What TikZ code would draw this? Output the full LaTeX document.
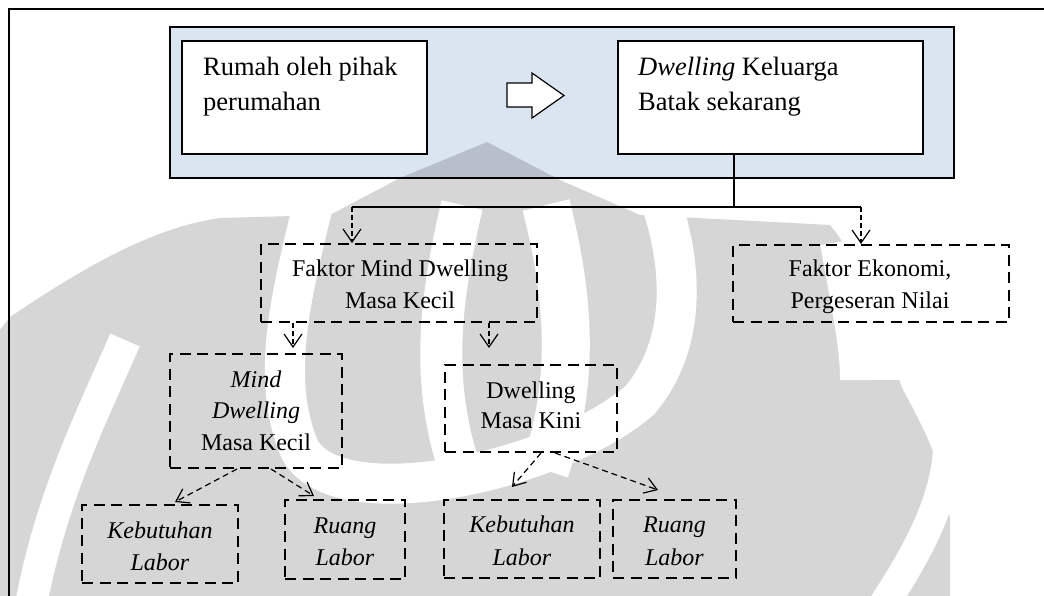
\documentclass[tikz,border=0pt]{standalone}
\usepackage{fontspec}
\setmainfont{Liberation Serif}
\usetikzlibrary{arrows.meta,calc}
\definecolor{panelblue}{RGB}{219,229,241}
\definecolor{markgray}{RGB}{214,214,214}
\begin{document}
\begin{tikzpicture}[x=1pt,y=-1pt,
  solidbox/.style={draw=black,line width=1.5pt,fill=white,inner sep=0pt},
  dashbox/.style={draw=black,line width=2pt,dash pattern=on 11pt off 6.5pt,inner sep=0pt},
  toptext/.style={font=\fontsize{26.5}{35}\selectfont,align=left,inner sep=0pt,anchor=base west},
  boxtext/.style={font=\fontsize{24}{31.5}\selectfont,align=center,inner sep=0pt,anchor=base},
  trunk/.style={line width=1.5pt},
  droparrow/.style={line width=1.2pt,dash pattern=on 5pt off 3pt,-{Straight Barb[length=13pt,width=18pt]}},
  slantarrow/.style={line width=1.2pt,dash pattern=on 6pt off 4pt,-{Straight Barb[length=12pt,width=16pt]}},
  markband/.style={draw=white,line width=40pt},
]
\useasboundingbox (0,0) rectangle (1044,595);
\clip (0,0) rectangle (1044,595);
\fill[white] (0,0) rectangle (1044,595);

% faint emblem in the background
\begin{scope}
  \fill[markgray] (487,142) -- (560,180) -- (640,215) -- (830,225)
    .. controls (860,260) and (880,330) .. (903,390)
    .. controls (925,430) and (945,470) .. (950,520)
    -- (950,600) -- (0,600) -- (0,330) -- (10,317)
    .. controls (80,270) and (150,228) .. (220,218)
    -- (330,215) -- (400,178) -- cycle;
  % white sweeps cutting the emblem
  \draw[markband] (313,205) .. controls (290,300) and (270,380) .. (300,450)
    .. controls (340,520) and (560,470) .. (640,400)
    .. controls (690,340) and (680,260) .. (662,205);
  \draw[markband,line width=42pt] (462,205) .. controls (440,300) and (430,380) .. (460,470);
  \draw[markband,line width=48pt] (546,205) .. controls (570,300) and (575,380) .. (545,470);
  \draw[markband,line width=32pt] (125,340) .. controls (90,420) and (50,500) .. (30,610);
  \draw[markband,line width=30pt] (948,450) .. controls (945,500) and (920,550) .. (880,610);
  \draw[markband,line width=60pt] (850,240) .. controls (860,300) and (870,340) .. (870,380);
\end{scope}

% outer frame, open to the right and bottom
\draw[line width=1.3pt] (9,600) -- (9,9) -- (1050,9);

% top panel with the two solid boxes
\node[draw=black,line width=1.5pt,fill=panelblue,minimum width=784pt,minimum height=151pt,inner sep=0pt,blend mode=multiply] (panel) at (562,102.5) {};
\node[solidbox,minimum width=245pt,minimum height=113pt] (rumah) at (304.5,97.5) {};
\node[solidbox,minimum width=305pt,minimum height=113pt] (dwell) at (770.5,97.5) {};
\node[toptext] (rumahtxt) at (203,110) {Rumah oleh pihak\\perumahan};
\node[toptext] (dwelltxt) at (638,110) {\textit{Dwelling} Keluarga\\Batak sekarang};

% block arrow between the two boxes
\draw[line width=1.2pt,fill=white] (507,83) -- (532,83) -- (532,73) -- (564,95.5)
  -- (532,118) -- (532,107) -- (507,107) -- cycle;

% dashed boxes
\node[dashbox,minimum width=276pt,minimum height=78pt] (fmind) at (399,283) {};
\node[dashbox,minimum width=276pt,minimum height=77pt] (ekon) at (871,283.5) {};
\node[dashbox,minimum width=172pt,minimum height=114pt] (mindd) at (256,411) {};
\node[dashbox,minimum width=172pt,minimum height=87pt] (kini) at (531,408.5) {};
\node[dashbox,minimum width=156pt,minimum height=78pt] (keb1) at (160,544) {};
\node[dashbox,minimum width=120pt,minimum height=79pt] (ruang1) at (345,539.5) {};
\node[dashbox,minimum width=156pt,minimum height=78pt] (keb2) at (522,539) {};
\node[dashbox,minimum width=123pt,minimum height=78pt] (ruang2) at (674.5,539) {};

% box labels (anchored at the baseline of their last line)
\node[boxtext] (fmindtxt) at (400,308) {Faktor Mind Dwelling\\Masa Kecil};
\node[boxtext] (ekontxt) at (870,308) {Faktor Ekonomi,\\Pergeseran Nilai};
\node[boxtext] (minddtxt) at (256,450) {\textit{Mind}\\\textit{Dwelling}\\Masa Kecil};
\node[boxtext,font=\fontsize{24}{30}\selectfont] (kinitxt) at (531,428) {Dwelling\\Masa Kini};
\node[boxtext,font=\fontsize{24}{32}\selectfont] (keb1txt) at (160,570) {\textit{Kebutuhan}\\\textit{Labor}};
\node[boxtext,font=\fontsize{24}{32}\selectfont] (ruang1txt) at (345,565) {\textit{Ruang}\\\textit{Labor}};
\node[boxtext,font=\fontsize{24}{33}\selectfont] (keb2txt) at (522,565) {\textit{Kebutuhan}\\\textit{Labor}};
\node[boxtext,font=\fontsize{24}{33}\selectfont] (ruang2txt) at (674.5,565) {\textit{Ruang}\\\textit{Labor}};

% branching connector below the panel
\coordinate (split) at (734,207);
\coordinate (lj) at (352,207);
\coordinate (rj) at (861,207);
\draw[trunk] (split |- dwell.south) -- (split);
\draw[trunk] (lj) -- (rj);
\draw[droparrow] (lj) -- (lj |- fmind.north);
\draw[droparrow] (rj) -- (rj |- ekon.north);

% arrows leaving the first factor box
\coordinate (fa) at (293,348);
\coordinate (fb) at (489,348);
\draw[droparrow] (fa |- fmind.south) -- (fa);
\draw[droparrow] (fb |- fmind.south) -- (fb);

% slanted arrows to the lowest row
\coordinate (ma) at (175,502);
\coordinate (mb) at (314,496);
\coordinate (ka) at (512,487);
\coordinate (kb) at (658,490);
\draw[slantarrow] ($(mindd.south)+(-19,0)$) -- (ma);
\draw[slantarrow] ($(mindd.south)+(15,0)$) -- (mb);
\draw[slantarrow] ($(kini.south)+(10,0)$) -- (ka);
\draw[slantarrow] ($(kini.south)+(24,0)$) -- (kb);
\end{tikzpicture}
\end{document}
